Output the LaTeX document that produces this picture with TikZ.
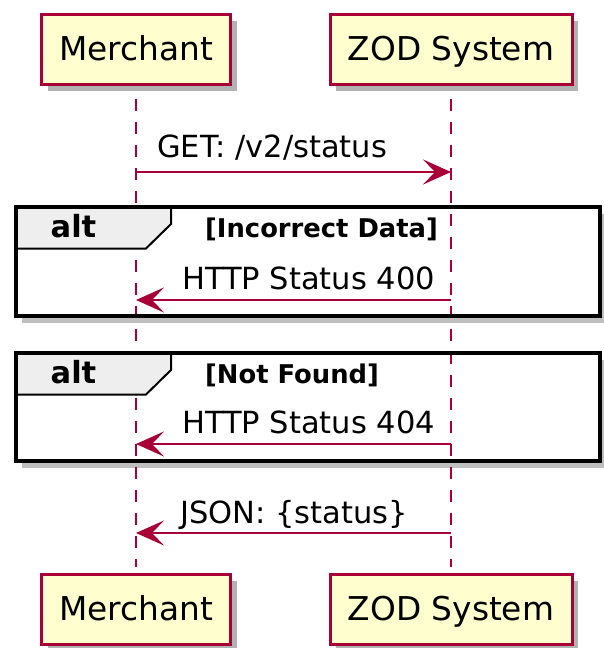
\documentclass[tikz,border=0pt]{standalone}
\usepackage{fontspec}
\setmainfont{DejaVu Sans}
\usetikzlibrary{arrows.meta,positioning,shadows}

\definecolor{umlred}{HTML}{A80036}
\definecolor{umlfill}{HTML}{FEFECE}
\definecolor{umltab}{HTML}{EEEEEE}

\tikzset{
  actor/.style={draw=umlred,fill=umlfill,line width=3pt,minimum height=70pt,inner sep=0pt,
    text height=26pt,text depth=5pt,font=\fontsize{32.8}{40}\selectfont,
    drop shadow={shadow xshift=6pt,shadow yshift=-6pt,fill=black,opacity=0.3}},
  lifeline/.style={umlred,line width=2.3pt,dash pattern=on 12pt off 11pt},
  msg/.style={umlred,line width=2.3pt,-{Stealth[length=28pt,width=25pt,inset=12pt]}},
  msgtext/.style={anchor=base west,inner sep=0pt,font=\fontsize{30.5}{36}\selectfont},
  alttext/.style={anchor=base,inner sep=0pt,font=\bfseries\fontsize{30.5}{36}\selectfont},
  condtext/.style={anchor=base west,inner sep=0pt,font=\bfseries\fontsize{25.8}{30}\selectfont}
}

\begin{document}
\begin{tikzpicture}[x=1pt,y=-1pt]
  \useasboundingbox (0,0) rectangle (603,648);

  % participants
  \node[actor,minimum width=189pt] (mTop) at (136,49.5) {Merchant};
  \node[actor,minimum width=242pt] (zTop) at (451,49.5) {ZOD System};
  \node[actor,minimum width=189pt] (mBot) at (136,609.5) {Merchant};
  \node[actor,minimum width=242pt] (zBot) at (451,609.5) {ZOD System};

  % frame shadows and backgrounds
  \foreach \ftop/\fbot in {207/315.5,353/460.5} {
    \fill[black,opacity=0.25] (22,\ftop+7) rectangle (606,\fbot+7);
    \fill[white] (15.5,\ftop) rectangle (599.5,\fbot);
  }

  % lifelines
  \draw[lifeline] ([yshift=-12.5pt]mTop.south) -- ([yshift=6.5pt]mBot.north);
  \draw[lifeline] ([yshift=-12.5pt]zTop.south) -- ([yshift=6.5pt]zBot.north);

  % alt frames
  \foreach \ftop/\fbot/\cond [count=\i] in {207/315.5/Incorrect Data,353/460.5/Not Found} {
    \filldraw[fill=umltab,draw=black,line width=2pt]
      (15.5,\ftop) -- (171,\ftop) -- (171,\ftop+17) -- (146,\ftop+41.5) -- (15.5,\ftop+41.5) -- cycle;
    \draw[black,line width=4pt] (15.5,\ftop) rectangle (599.5,\fbot);
    \node[alttext] (alt\i) at (73.5,\ftop+30) {alt};
    \node[condtext] (cond\i) at (205,\ftop+30) {[\cond]};
  }

  % message anchors on the lifelines
  \foreach \y [count=\i] in {172,300,444,533} {
    \coordinate (mL\i) at (mTop.center |- 0,\y);
    \coordinate (zL\i) at (zTop.center |- 0,\y);
  }

  % messages
  \draw[msg] (mL1) -- (zL1);
  \node[msgtext] (get) at ([xshift=21pt,yshift=15pt]mL1) {GET: /v2/status};
  \draw[msg] (zL2) -- (mL2);
  \node[msgtext] (bad) at ([xshift=46pt,yshift=11pt]mL2) {HTTP Status 400};
  \draw[msg] (zL3) -- (mL3);
  \node[msgtext] (nf) at ([xshift=46pt,yshift=11pt]mL3) {HTTP Status 404};
  \draw[msg] (zL4) -- (mL4);
  \node[msgtext] (json) at ([xshift=44pt,yshift=10pt]mL4) {JSON: \{status\}};
\end{tikzpicture}
\end{document}
